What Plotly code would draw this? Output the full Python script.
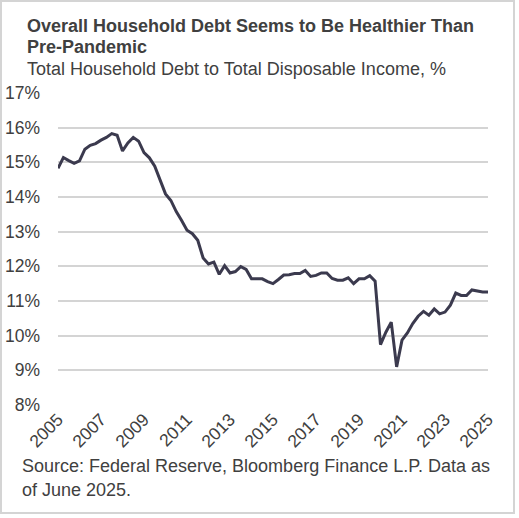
import plotly.graph_objects as go

# Quarterly data, 2005Q1 .. 2025Q1
start_year = 2005
values = [
    14.83, 15.14, 15.05, 14.97,   # 2005
    15.04, 15.38, 15.49, 15.54,   # 2006
    15.64, 15.72, 15.83, 15.78,   # 2007
    15.33, 15.56, 15.72, 15.61,   # 2008
    15.28, 15.13, 14.89, 14.49,   # 2009
    14.09, 13.90, 13.58, 13.32,   # 2010
    13.04, 12.94, 12.75, 12.24,   # 2011
    12.07, 12.12, 11.77, 12.02,   # 2012
    11.81, 11.85, 11.99, 11.91,   # 2013
    11.64, 11.64, 11.64, 11.56,   # 2014
    11.50, 11.62, 11.75, 11.76,   # 2015
    11.79, 11.79, 11.88, 11.71,   # 2016
    11.74, 11.81, 11.81, 11.65,   # 2017
    11.60, 11.60, 11.67, 11.50,   # 2018
    11.64, 11.64, 11.73, 11.57,   # 2019
    9.74, 10.10, 10.39, 9.10,     # 2020
    9.87, 10.08, 10.35, 10.56,    # 2021
    10.70, 10.59, 10.77, 10.63,   # 2022
    10.68, 10.88, 11.23, 11.16,   # 2023
    11.16, 11.32, 11.29, 11.26,   # 2024
    11.26,                        # 2025
]
x_vals = [start_year + i * 0.25 for i in range(len(values))]
tick_years = list(range(2005, 2026, 2))
y_ticks = list(range(8, 18))

title_lines = ["Overall Household Debt Seems to Be Healthier Than", "Pre-Pandemic"]
subtitle_text = "Total Household Debt to Total Disposable Income, %"
source_lines = ["Source: Federal Reserve, Bloomberg Finance L.P. Data as", "of June 2025."]

W, H = 519, 518
L, R, T, B = 58, 31, 93, 113
pw, ph = W - L - R, H - T - B

def px_to_paper_x(px):
    return (px - L) / pw

def px_to_paper_y(py):
    return (H - B - py) / ph

text_color = "#404040"
font_family = "Liberation Sans, Arial, sans-serif"
fs = 18

fig = go.Figure()
fig.add_trace(go.Scatter(
    x=x_vals, y=values, mode="lines",
    line=dict(color="#3b3a4e", width=3),
    hoverinfo="skip", showlegend=False,
))

annotations = []
def add_text(txt, x_px, y_px, bold=False):
    annotations.append(dict(
        text=f"<b>{txt}</b>" if bold else txt,
        xref="paper", yref="paper",
        x=px_to_paper_x(x_px), y=px_to_paper_y(y_px),
        xanchor="left", yanchor="middle", showarrow=False, align="left",
        borderpad=0, font=dict(size=fs, color=text_color),
    ))

add_text(title_lines[0], 26, 26, bold=True)
add_text(title_lines[1], 26, 47, bold=True)
add_text(subtitle_text, 26, 69)
add_text(source_lines[0], 21, 466)
add_text(source_lines[1], 21, 490)

fig.update_layout(
    width=W, height=H,
    margin=dict(l=L, r=R, t=T, b=B, autoexpand=False),
    paper_bgcolor="white", plot_bgcolor="white",
    font=dict(family=font_family, color=text_color, size=fs),
    xaxis=dict(
        range=[2005, 2025], automargin=False,
        tickmode="array", tickvals=tick_years, ticktext=[str(y) for y in tick_years],
        tickangle=-45, showgrid=False, zeroline=False, showline=False,
        ticks="", tickfont=dict(size=17.5, color=text_color),
    ),
    yaxis=dict(
        range=[8, 17], automargin=False,
        tickmode="array", tickvals=y_ticks, ticktext=[f"{v}%" for v in y_ticks],
        showgrid=True, gridcolor="#d4d4d4", gridwidth=1.5, zeroline=False,
        showline=False, ticks="", ticklabelstandoff=17,
        tickfont=dict(size=17.5, color=text_color),
    ),
    shapes=[dict(
        type="rect", xref="paper", yref="paper",
        x0=px_to_paper_x(1), x1=px_to_paper_x(514),
        y0=px_to_paper_y(513), y1=px_to_paper_y(1),
        line=dict(color="#d4d4d4", width=2), fillcolor="rgba(0,0,0,0)",
        layer="below",
    )],
    annotations=annotations,
)

fig.write_html("out.html", config={"displayModeBar": False},
               post_script="document.body.style.margin='0';")
